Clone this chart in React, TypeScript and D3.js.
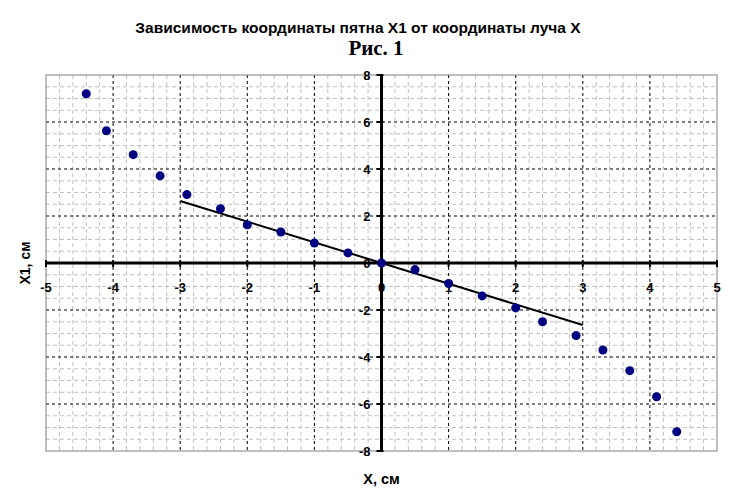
import React, { useEffect, useRef } from 'react';
import * as d3 from 'd3';

// measured beam coordinate X and spot coordinate X1, cm
const beamX = [-4.4, -4.1, -3.7, -3.3, -2.9, -2.4, -2, -1.5, -1, -0.5, 0, 0.5, 1, 1.5, 2, 2.4, 2.9, 3.3, 3.7, 4.1, 4.4];
const spotX1 = [7.2, 5.63, 4.61, 3.71, 2.91, 2.31, 1.63, 1.32, 0.85, 0.43, 0, -0.28, -0.87, -1.4, -1.91, -2.5, -3.09, -3.7, -4.58, -5.69, -7.18];

// fitted line ends
const fitX = [-3, 3];
const fitY = [2.64, -2.64];

const xTicks = [-5, -4, -3, -2, -1, 0, 1, 2, 3, 4, 5];
const yTicks = [-8, -6, -4, -2, 0, 2, 4, 6, 8];

const W = 735;
const H = 492;

export default function App() {
  const svgRef = useRef<SVGSVGElement>(null);

  useEffect(() => {
    document.body.style.margin = '0';
    if (!svgRef.current) return;
    const svg = d3.select(svgRef.current);
    svg.selectAll('*').remove();

    const margin = { top: 75, right: 18, bottom: 41, left: 46 };
    const x = d3.scaleLinear().domain([-5, 5]).range([margin.left, W - margin.right]);
    const y = d3.scaleLinear().domain([-8, 8]).range([H - margin.bottom, margin.top]);

    const g = svg.append('g');

    // minor grid
    const xMinor = d3.range(-50, 51, 2).map((v) => v / 10).filter((v) => !xTicks.includes(v));
    const yMinor = d3.range(-16, 17, 1).map((v) => v / 2).filter((v) => !yTicks.includes(v));
    g.selectAll('.xminor')
      .data(xMinor)
      .enter()
      .append('line')
      .attr('x1', (d) => x(d))
      .attr('x2', (d) => x(d))
      .attr('y1', y(8))
      .attr('y2', y(-8))
      .attr('stroke', '#c0c0c0')
      .attr('stroke-dasharray', '4,3');
    g.selectAll('.yminor')
      .data(yMinor)
      .enter()
      .append('line')
      .attr('x1', x(-5))
      .attr('x2', x(5))
      .attr('y1', (d) => y(d))
      .attr('y2', (d) => y(d))
      .attr('stroke', '#c0c0c0')
      .attr('stroke-dasharray', '4,3');

    // major grid
    g.selectAll('.xmajor')
      .data(xTicks.filter((v) => v !== 0 && Math.abs(v) !== 5))
      .enter()
      .append('line')
      .attr('x1', (d) => x(d))
      .attr('x2', (d) => x(d))
      .attr('y1', y(8))
      .attr('y2', y(-8))
      .attr('stroke', '#000')
      .attr('stroke-dasharray', '3,3');
    g.selectAll('.ymajor')
      .data(yTicks.filter((v) => v !== 0 && Math.abs(v) !== 8))
      .enter()
      .append('line')
      .attr('x1', x(-5))
      .attr('x2', x(5))
      .attr('y1', (d) => y(d))
      .attr('y2', (d) => y(d))
      .attr('stroke', '#000')
      .attr('stroke-dasharray', '3,3');

    // plot border
    g.append('rect')
      .attr('x', x(-5))
      .attr('y', y(8))
      .attr('width', x(5) - x(-5))
      .attr('height', y(-8) - y(8))
      .attr('fill', 'none')
      .attr('stroke', '#808080');

    // zero axes
    g.append('line')
      .attr('x1', x(-5))
      .attr('x2', x(5))
      .attr('y1', y(0))
      .attr('y2', y(0))
      .attr('stroke', '#000')
      .attr('stroke-width', 3);
    g.append('line')
      .attr('x1', x(0))
      .attr('x2', x(0))
      .attr('y1', y(8))
      .attr('y2', y(-8))
      .attr('stroke', '#000')
      .attr('stroke-width', 3);

    // tick marks
    g.selectAll('.xt')
      .data(xTicks)
      .enter()
      .append('line')
      .attr('x1', (d) => x(d))
      .attr('x2', (d) => x(d))
      .attr('y1', y(0) - 3)
      .attr('y2', y(0) + 4)
      .attr('stroke', '#000')
      .attr('stroke-width', 2);
    g.selectAll('.yt')
      .data(yTicks)
      .enter()
      .append('line')
      .attr('x1', x(0) - 5)
      .attr('x2', x(0) + 2)
      .attr('y1', (d) => y(d))
      .attr('y2', (d) => y(d))
      .attr('stroke', '#000')
      .attr('stroke-width', 2);

    const font = '"Liberation Sans", Arial, sans-serif';

    // tick labels
    g.selectAll('.xl')
      .data(xTicks)
      .enter()
      .append('text')
      .attr('x', (d) => x(d))
      .attr('y', y(0) + 29)
      .attr('text-anchor', 'middle')
      .attr('font-family', font)
      .attr('font-size', 13)
      .attr('font-weight', 'bold')
      .text((d) => String(d));
    g.selectAll('.yl')
      .data(yTicks)
      .enter()
      .append('text')
      .attr('x', x(0) - 11)
      .attr('y', (d) => y(d) + 5)
      .attr('text-anchor', 'end')
      .attr('font-family', font)
      .attr('font-size', 13)
      .attr('font-weight', 'bold')
      .text((d) => String(d));

    // fitted line
    const line = d3
      .line<number>()
      .x((d) => x(d))
      .y((_, i) => y(fitY[i]));
    g.append('path')
      .attr('d', line(fitX))
      .attr('fill', 'none')
      .attr('stroke', '#000')
      .attr('stroke-width', 2);

    // data points
    g.selectAll('.pt')
      .data(beamX)
      .enter()
      .append('circle')
      .attr('cx', (d) => x(d))
      .attr('cy', (_, i) => y(spotX1[i]))
      .attr('r', 4.5)
      .attr('fill', '#000080');

    // titles
    svg.append('text')
      .attr('x', 358)
      .attr('y', 33)
      .attr('text-anchor', 'middle')
      .attr('font-family', font)
      .attr('font-size', 15.5)
      .attr('font-weight', 'bold')
      .text('Зависимость координаты пятна X1 от координаты луча X');
    svg.append('text')
      .attr('x', 376)
      .attr('y', 55)
      .attr('text-anchor', 'middle')
      .attr('font-family', '"Liberation Serif", "Times New Roman", serif')
      .attr('font-size', 21)
      .attr('font-weight', 'bold')
      .text('Рис. 1');

    // axis titles
    svg.append('text')
      .attr('x', x(0))
      .attr('y', 484)
      .attr('text-anchor', 'middle')
      .attr('font-family', font)
      .attr('font-size', 14.5)
      .attr('font-weight', 'bold')
      .text('X, см');
    svg.append('text')
      .attr('transform', `translate(30,${y(0)}) rotate(-90)`)
      .attr('text-anchor', 'middle')
      .attr('font-family', font)
      .attr('font-size', 14)
      .attr('font-weight', 'bold')
      .text('X1, см');
  }, []);

  return <svg ref={svgRef} width={W} height={H} style={{ display: 'block', background: '#fff' }} />;
}
